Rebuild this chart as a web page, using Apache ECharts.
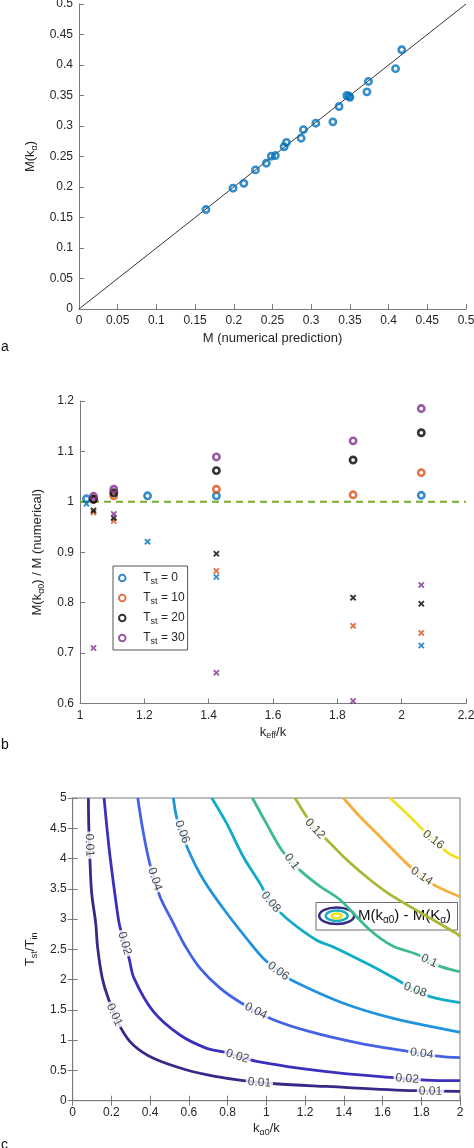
<!DOCTYPE html>
<html><head><meta charset="utf-8">
<script src="https://cdn.jsdelivr.net/npm/echarts@6/dist/echarts.min.js"></script>
<style>html,body{margin:0;padding:0;background:#fff}#c{width:474px;height:1148px}</style>
</head><body><div id="c"></div>
<script>
// ---------- Panel a data ----------
const aPredicted = [0.164,0.199,0.213,0.228,0.242,0.2485,0.2537,0.265,0.268,0.287,0.290,0.306,0.328,0.336,0.346,0.349,0.350,0.372,0.374,0.409,0.417];
const aMkalpha   = [0.163,0.198,0.206,0.228,0.239,0.2505,0.2516,0.266,0.273,0.280,0.294,0.3046,0.3068,0.332,0.350,0.349,0.347,0.356,0.373,0.394,0.425];
const aIdentity  = [0, 0.5];

// ---------- Panel b data ----------
const bNames = ['T_st = 0','T_st = 10','T_st = 20','T_st = 30'];
const bKeffT0   = [1.02, 1.21, 1.424, 2.061];
const bCircT0   = [1.006, 1.012, 1.012, 1.013];
const bCrossT0  = [0.996, 0.921, 0.851, 0.715];
const bKeff     = [1.042, 1.105, 1.424, 1.849, 2.061];
const bCircT10  = [1.005, 1.012, 1.025, 1.014, 1.058];
const bCrossT10 = [0.979, 0.962, 0.863, 0.754, 0.740];
const bCircT20  = [1.005, 1.018, 1.062, 1.083, 1.137];
const bCrossT20 = [0.983, 0.968, 0.897, 0.810, 0.798];
const bCircT30  = [1.011, 1.025, 1.089, 1.121, 1.185];
const bCrossT30 = [0.710, 0.976, 0.661, 0.605, 0.835];
const bRefX = [1, 2.2];
const bRefY = 1;

// ---------- Panel c data (contour paths) ----------
const cLevels = ['0.01','0.02','0.04','0.06','0.08','0.1','0.12','0.14','0.16'];
const c001 = [[0.081,5.0],[0.083,4.53],[0.089,3.98],[0.098,3.43],[0.119,2.93],[0.128,2.55],[0.153,2.02],[0.184,1.69],[0.25,1.195],[0.313,0.92],[0.417,0.70],[0.589,0.507],[0.744,0.397],[0.881,0.33],[1.045,0.28],[1.312,0.235],[1.768,0.165],[2.0,0.155]];
const c002 = [[0.162,5.0],[0.177,4.5],[0.193,4.03],[0.227,3.20],[0.244,2.87],[0.291,2.35],[0.317,2.02],[0.417,1.47],[0.554,1.085],[0.692,0.865],[0.787,0.80],[0.95,0.65],[1.312,0.48],[1.656,0.38],[1.82,0.34],[2.0,0.33]];
const c004 = [[0.336,5.0],[0.365,4.42],[0.40,3.89],[0.451,3.37],[0.52,2.93],[0.58,2.56],[0.657,2.19],[0.761,1.86],[0.873,1.61],[1.027,1.35],[1.225,1.14],[1.484,0.947],[1.724,0.82],[1.888,0.738],[2.0,0.71]];
const c006 = [[0.52,5.0],[0.54,4.64],[0.597,4.14],[0.675,3.65],[0.795,3.10],[0.933,2.54],[0.985,2.35],[1.062,2.14],[1.131,1.99],[1.398,1.61],[1.656,1.36],[2.0,1.13]];
const c008 = [[0.718,5.0],[0.795,4.58],[0.881,4.03],[0.967,3.59],[1.023,3.28],[1.105,3.01],[1.26,2.65],[1.346,2.54],[1.535,2.24],[1.69,1.97],[1.768,1.83],[1.845,1.72],[2.0,1.62]];
const c010 = [[0.928,5.0],[1.0,4.58],[1.079,4.14],[1.131,3.95],[1.183,3.78],[1.277,3.54],[1.38,3.32],[1.535,2.82],[1.65,2.56],[1.776,2.42],[1.841,2.31],[1.905,2.21],[2.0,2.13]];
const c012 = [[1.148,5.0],[1.208,4.69],[1.251,4.49],[1.312,4.31],[1.415,3.98],[1.535,3.65],[1.656,3.37],[1.983,2.76],[2.0,2.71]];
const c014 = [[1.398,5.0],[1.484,4.69],[1.587,4.36],[1.724,3.92],[1.802,3.71],[1.88,3.54],[2.0,3.37]];
const c016 = [[1.639,5.0],[1.742,4.69],[1.81,4.47],[1.862,4.31],[1.94,4.09],[2.0,4.0]];
const cPaths = [c001,c002,c004,c006,c008,c010,c012,c014,c016];

const cLabelText = ['0.01','0.01','0.01','0.01','0.02','0.02','0.02','0.04','0.04','0.04','0.06','0.06','0.08','0.08','0.1','0.1','0.12','0.14','0.16'];
const cLabelX    = [0.086,0.215,0.964,1.848,0.268,0.851,1.727,0.424,0.946,1.802,0.565,1.062,1.023,1.768,1.131,1.841,1.251,1.802,1.862];
const cLabelY    = [4.22,1.42,0.30,0.155,2.60,0.735,0.362,3.66,1.48,0.78,4.44,2.14,3.28,1.83,3.95,2.31,4.49,3.71,4.31];

// ---------- styles ----------
const FONT = "'Liberation Sans', Arial, Helvetica, sans-serif";
const AX = '#7a7a7a', TXT = '#262626';
const bColors = ['#0072BD','#D95319','#000000','#7E2F8E'];
const cColors = ['#352A87','#3B30BE','#4462E6','#2193DE','#10ACC6','#3DBB8E','#AAB734','#F5AE3A','#F0E11E'];
const cLabelAngle = [-88,-66,-4,-1,-74,-17,-4,-72,-27,-8,-70,-36,-50,-20,-52,-26,-46,-34,-38];
const CROSS = 'path://M2,0L5,3L8,0L10,2L7,5L10,8L8,10L5,7L2,10L0,8L3,5L0,2Z';
const RICH = {s:{fontFamily:FONT,fontSize:9,color:TXT,padding:[8,0,0,0]}};
const HOLLOW = 'rgba(255,255,255,0)';

function axis(o){
  return Object.assign({
    type:'value', nameLocation:'middle',
    axisLine:{show:true,onZero:false,lineStyle:{color:AX,width:1}},
    axisTick:{show:true,inside:true,length:5,lineStyle:{color:AX}},
    axisLabel:{fontFamily:FONT,fontSize:12,color:TXT,margin:6},
    splitLine:{show:false},
    nameTextStyle:{fontFamily:FONT,fontSize:13,color:TXT,rich:RICH}
  }, o);
}
function bare(o){
  return Object.assign({
    type:'value', axisLine:{show:false}, axisLabel:{show:false}, splitLine:{show:false},
    axisTick:{show:true,inside:true,length:5,lineStyle:{color:AX}}
  }, o);
}

const series = [];
// panel a
series.push({type:'line',xAxisIndex:0,yAxisIndex:0,data:aIdentity.map(v=>[v,v]),symbol:'none',silent:true,
  lineStyle:{color:'#000',width:0.8},z:1});
series.push({type:'scatter',xAxisIndex:0,yAxisIndex:0,data:aPredicted.map((x,i)=>[x,aMkalpha[i]]),
  symbol:'circle',symbolSize:6.3,itemStyle:{color:HOLLOW,borderColor:'#0072BD',borderWidth:2.6},z:3});
// panel b
series.push({type:'line',xAxisIndex:1,yAxisIndex:1,data:bRefX.map(x=>[x,bRefY]),symbol:'none',silent:true,
  lineStyle:{color:'#77AC30',width:2,type:[7,5]},z:1});
const bGroups = [[bKeffT0,bCircT0,bCrossT0],[bKeff,bCircT10,bCrossT10],[bKeff,bCircT20,bCrossT20],[bKeff,bCircT30,bCrossT30]];
bGroups.forEach((g,i)=>{
  series.push({type:'scatter',name:bNames[i],xAxisIndex:1,yAxisIndex:1,data:g[0].map((x,j)=>[x,g[1][j]]),
    symbol:'circle',symbolSize:6.3,itemStyle:{color:HOLLOW,borderColor:bColors[i],borderWidth:2.6},z:3});
  series.push({type:'scatter',name:bNames[i]+' x',xAxisIndex:1,yAxisIndex:1,data:g[0].map((x,j)=>[x,g[2][j]]),
    symbol:CROSS,symbolSize:6.5,itemStyle:{color:bColors[i]},z:3});
});
// panel c
cPaths.forEach((p,i)=>{
  series.push({type:'line',name:'c'+cLevels[i],xAxisIndex:2,yAxisIndex:2,data:p,symbol:'none',smooth:0.35,
    lineStyle:{color:cColors[i],width:2.8},z:2,silent:true});
});
series.push({type:'scatter',xAxisIndex:2,yAxisIndex:2,symbolSize:1,itemStyle:{color:'rgba(0,0,0,0)'},z:6,silent:true,
  data:cLabelText.map((t,i)=>({name:t,value:[cLabelX[i],cLabelY[i]],label:{rotate:cLabelAngle[i]}})),
  label:{show:true,position:'inside',formatter:'{b}',fontFamily:FONT,fontSize:12,color:'#1a1a1a',
    backgroundColor:'#fff',padding:[0,2],lineHeight:12}});

const option = {
  animation:false,
  backgroundColor:'#fff',
  grid:[
    {left:79,top:4,width:387,height:305,outerBoundsMode:'none'},
    {left:80,top:401,width:386,height:302.5,outerBoundsMode:'none'},
    {left:72.7,top:798,width:387.3,height:302.7,outerBoundsMode:'none',show:true,borderColor:AX,borderWidth:1,backgroundColor:'transparent'}
  ],
  xAxis:[
    axis({gridIndex:0,min:0,max:0.5,interval:0.05,name:'M (numerical prediction)',nameGap:23}),
    axis({gridIndex:1,min:1,max:2.2,interval:0.2,name:'k{s|eff}/k',nameGap:20}),
    axis({gridIndex:2,min:0,max:2,interval:0.2,name:'k{s|α0}/k',nameGap:19}),
    bare({gridIndex:2,min:0,max:2,interval:0.2,position:'top'})
  ],
  yAxis:[
    axis({gridIndex:0,min:0,max:0.5,interval:0.05,name:'M(k{s|α})',nameGap:31}),
    axis({gridIndex:1,min:0.6,max:1.2,interval:0.1,name:'M(k{s|α0}) / M (numerical)',nameGap:29}),
    axis({gridIndex:2,min:0,max:5,interval:0.5,name:'T{s|st}/T{s|in}',nameGap:26}),
    bare({gridIndex:2,min:0,max:5,interval:0.5,position:'right'})
  ],
  legend:{
    left:113,top:566,orient:'vertical',
    data:bNames.map(n=>({name:n,icon:'circle'})),
    itemWidth:32,itemHeight:6.5,itemGap:4,
    padding:[4,3,4,5],
    borderColor:'#555',borderWidth:1,backgroundColor:'#fff',
    formatter:n=>'{n|T}{s|st}{n| = '+n.split('= ')[1]+'}',
    textStyle:{fontFamily:FONT,fontSize:12,color:TXT,rich:{
      n:{fontFamily:FONT,fontSize:12,color:TXT,lineHeight:16},
      s:{fontFamily:FONT,fontSize:9,color:TXT,lineHeight:9,padding:[7,0,0,0]}}}
  },
  graphic:[
    {type:'text',left:1,top:340,style:{text:'a',font:'14px '+FONT,fill:'#111'}},
    {type:'text',left:1,top:738,style:{text:'b',font:'14px '+FONT,fill:'#111'}},
    {type:'text',left:1,top:1138,style:{text:'c',font:'14px '+FONT,fill:'#111'}},
    {type:'group',z:100,children:[
      {type:'rect',shape:{x:316,y:902.5,width:141.5,height:27.5},style:{fill:'#fff',stroke:'#6e6e6e',lineWidth:1}},
      {type:'ellipse',shape:{cx:336.7,cy:915.8,rx:17.5,ry:8.3},style:{fill:'none',stroke:'#352A87',lineWidth:2.5}},
      {type:'ellipse',shape:{cx:336.7,cy:915.8,rx:11,ry:5.2},style:{fill:'none',stroke:'#1AAFC0',lineWidth:2.5}},
      {type:'ellipse',shape:{cx:336.7,cy:915.8,rx:5,ry:2.4},style:{fill:'none',stroke:'#F0E11E',lineWidth:2.5}},
      {type:'text',x:358,y:916,style:{text:'M(k{s|α0}) - M(K{s|α})',fontFamily:FONT,fontSize:15,fill:'#111',
        verticalAlign:'middle',rich:{s:{fontFamily:FONT,fontSize:10,fill:'#111',padding:[9,0,0,0]}}}}
    ]}
  ],
  series
};
const chart = echarts.init(document.getElementById('c'),null,{renderer:'canvas'});
chart.setOption(option);
</script></body></html>
